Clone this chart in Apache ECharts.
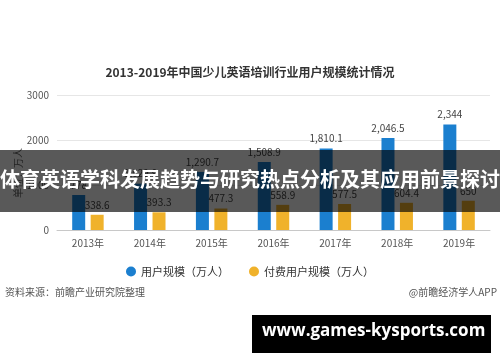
<!DOCTYPE html>
<html>
<head>
<meta charset="utf-8">
<script src="https://cdn.jsdelivr.net/npm/echarts@6/dist/echarts.min.js"></script>
<style>
html,body{margin:0;padding:0;background:#fff;}
#c{width:500px;height:362px;}
</style>
</head>
<body>
<div id="c"></div>
<script>
var categories = ['2013年','2014年','2015年','2016年','2017年','2018年','2019年'];
var userScale = [778.0, 1029.9, 1290.7, 1508.9, 1810.1, 2046.5, 2344];
var paidScale = [338.6, 393.3, 477.3, 558.9, 577.5, 604.4, 650.0];
var seriesNames = ['用户规模（万人）', '付费用户规模（万人）'];
var titleText = '2013-2019年中国少儿英语培训行业用户规模统计情况';
var bannerText = '体育英语学科发展趋势与研究热点分析及其应用前景探讨';
var sourceText = '资料来源：前瞻产业研究院整理';
var brandText = '@前瞻经济学人APP';
var siteText = 'www.games-kysports.com';
var yAxisName = '单位：万人';

var font = '"Noto Sans CJK SC", "Noto Sans", sans-serif';
var chart = echarts.init(document.getElementById('c'), null, {renderer: 'canvas'});

function fmt(v) {
  var s = String(v);
  var parts = s.split('.');
  parts[0] = parts[0].replace(/\B(?=(\d{3})+(?!\d))/g, ',');
  return parts.join('.');
}

chart.setOption({
  backgroundColor: '#ffffff',
  animation: false,
  textStyle: {fontFamily: font},
  title: {
    text: titleText,
    left: 'center',
    top: 61,
    textStyle: {fontSize: 12, fontWeight: 'bold', color: '#333', fontFamily: font}
  },
  legend: {
    data: seriesNames,
    top: 261,
    left: 'center',
    icon: 'circle',
    itemWidth: 10,
    itemHeight: 10,
    itemGap: 20,
    textStyle: {fontSize: 11, color: '#333', fontFamily: font}
  },
  grid: {left: 57, right: 10, top: 95, bottom: 132, containLabel: false},
  xAxis: {
    type: 'category',
    data: categories,
    axisLine: {lineStyle: {color: '#c8c8c8'}},
    axisTick: {alignWithLabel: true, lineStyle: {color: '#c8c8c8'}, length: 4},
    axisLabel: {fontSize: 10, color: '#555', margin: 8, fontFamily: font}
  },
  yAxis: {
    type: 'value',
    min: 0,
    max: 3000,
    interval: 1000,
    axisLine: {show: false},
    axisTick: {show: false},
    axisLabel: {fontSize: 10, color: '#555', margin: 8, fontFamily: font,
      formatter: function (v) { return String(v); }},
    splitLine: {lineStyle: {color: '#e6e6e6'}}
  },
  series: [
    {
      name: seriesNames[0],
      type: 'bar',
      data: userScale,
      barWidth: 13,
      barGap: '42%',
      itemStyle: {color: '#1b7fcf'},
      label: {show: true, position: 'top', distance: 5, fontSize: 10, color: '#444',
        formatter: function (p) { return fmt(p.value); }}
    },
    {
      name: seriesNames[1],
      type: 'bar',
      data: paidScale,
      barWidth: 13,
      itemStyle: {color: '#f0b22b'},
      label: {show: true, position: 'top', distance: 5, fontSize: 10, color: '#444',
        formatter: function (p) { return fmt(p.value); }}
    }
  ],
  graphic: [
    {type: 'text', x: 13, y: 198, rotation: Math.PI / 2, z: 50,
      style: {text: yAxisName, fontSize: 10, fill: '#666', fontFamily: font}},
    {type: 'text', left: 5, top: 287, z: 50,
      style: {text: sourceText, fontSize: 10, fill: '#555', fontFamily: font}},
    {type: 'text', right: 3, top: 287, z: 50,
      style: {text: brandText, fontSize: 10, fill: '#555', fontFamily: font}},
    {type: 'rect', left: 0, top: 150, z: 100,
      shape: {width: 500, height: 62},
      style: {fill: 'rgba(0,0,0,0.65)'}},
    {type: 'text', left: 'center', top: 169, z: 101,
      style: {text: bannerText, fontSize: 20, fontWeight: 'bold', fill: '#fff', fontFamily: font}},
    {type: 'rect', left: 252, top: 315, z: 100,
      shape: {width: 239, height: 38},
      style: {fill: '#000'}},
    {type: 'text', left: 262, top: 323, z: 101,
      style: {text: siteText, fontSize: 17, fontWeight: 'bold', fill: '#fff', fontFamily: '"Open Sans", "DejaVu Sans", sans-serif'}}
  ]
});
</script>
</body>
</html>
